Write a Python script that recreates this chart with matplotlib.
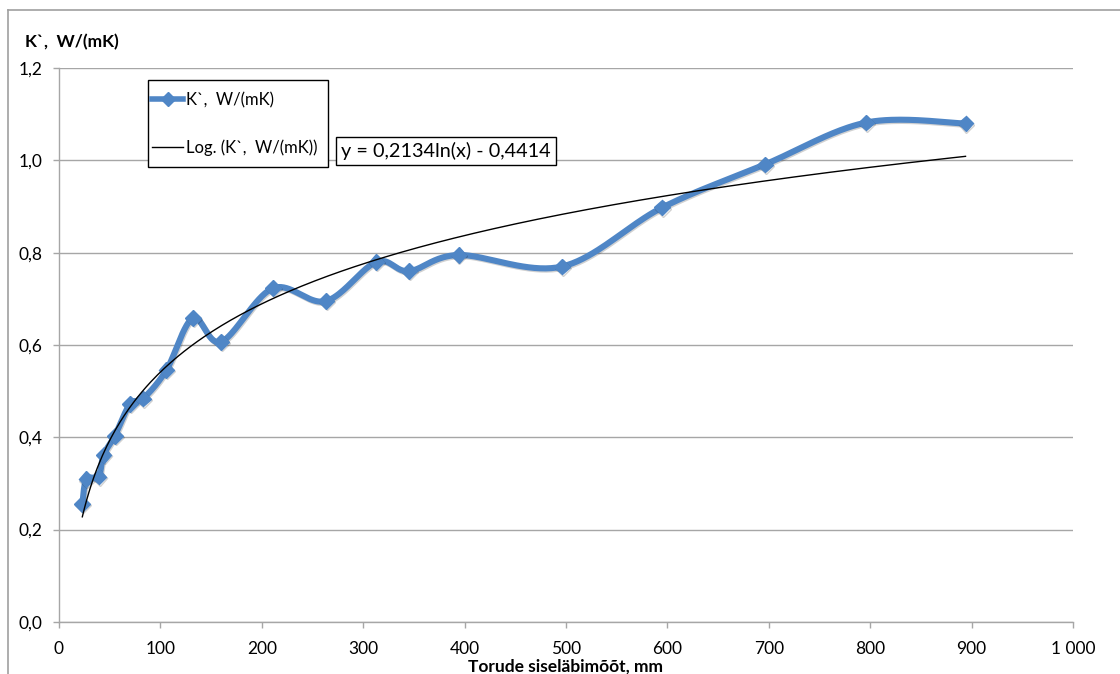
import numpy as np
import matplotlib
matplotlib.use("Agg")
import matplotlib.pyplot as plt
from matplotlib.lines import Line2D
from matplotlib.patches import Rectangle
import matplotlib.patheffects as pe
from matplotlib.ticker import FuncFormatter

plt.rcParams['font.family'] = ['Lato', 'DejaVu Sans']

# ---- data ----
diameter_mm = [23, 27, 39, 44, 55, 70, 83, 106, 132, 160, 211, 263, 313, 345,
               394, 496, 595, 696, 796, 894]
k_value = [0.255, 0.309, 0.315, 0.362, 0.403, 0.472, 0.484, 0.546, 0.658, 0.607,
           0.723, 0.695, 0.780, 0.760, 0.795, 0.770, 0.898, 0.991, 1.082, 1.080]
trend_a = 0.2134
trend_b = -0.4414
series_label = "K`,  W/(mK)"
trend_label = "Log. (K`,  W/(mK))"
equation_text = "y = 0,2134ln(x) - 0,4414"
x_label = "Torude siseläbimõõt, mm"
y_label = "K`,  W/(mK)"

W, H = 1120, 674
fig = plt.figure(figsize=(W / 100, H / 100), dpi=100)

# axes placement (pixels)
x0_px, x1_px = 59, 1073
y0_px, ytop_px = 621.9, 68.1
ax = fig.add_axes([x0_px / W, 1 - y0_px / H, (x1_px - x0_px) / W, (y0_px - ytop_px) / H])
ax.set_xlim(0, 1000)
ax.set_ylim(0, 1.2)

grid_c = '#A6A6A6'
ax.set_yticks(np.arange(0, 1.21, 0.2))
ax.set_xticks(np.arange(0, 1001, 100))
ax.yaxis.set_major_formatter(FuncFormatter(lambda v, p: f"{v:.1f}".replace('.', ',')))
ax.xaxis.set_major_formatter(FuncFormatter(lambda v, p: f"{int(round(v)):,}".replace(',', ' ')))
ax.grid(axis='y', color=grid_c, lw=1.0)
ax.set_axisbelow(True)
for s in ['top', 'right']:
    ax.spines[s].set_visible(False)
for s in ['left', 'bottom']:
    ax.spines[s].set_color(grid_c)
    ax.spines[s].set_linewidth(1.0)
ax.tick_params(axis='both', colors=grid_c, length=4, width=1.0, labelsize=12.5,
               labelcolor='black')
ax.tick_params(axis='y', pad=8)
ax.tick_params(axis='x', pad=10)

# ---- smoothed (Excel-like Bezier / Catmull-Rom) series ----
def smooth(xs, ys, n=40):
    P = np.column_stack([xs, ys]).astype(float)
    out = []
    m = len(P)
    for i in range(m - 1):
        p0 = P[i - 1] if i > 0 else P[i]
        p1 = P[i]
        p2 = P[i + 1]
        p3 = P[i + 2] if i + 2 < m else P[i + 1]
        c1 = p1 + (p2 - p0) / 6.0
        c2 = p2 - (p3 - p1) / 6.0
        t = np.linspace(0, 1, n)[:, None]
        seg = ((1 - t) ** 3) * p1 + 3 * ((1 - t) ** 2) * t * c1 + 3 * (1 - t) * t ** 2 * c2 + t ** 3 * p2
        out.append(seg if i == 0 else seg[1:])
    S = np.vstack(out)
    return S[:, 0], S[:, 1]

blue = '#4F86C6'
shadow = [pe.SimpleLineShadow(offset=(0.7, -0.9), shadow_color='black', alpha=0.18), pe.Normal()]
sx, sy = smooth(diameter_mm, k_value)
ax.plot(sx, sy, color=blue, lw=4.4, solid_capstyle='round', zorder=3, path_effects=shadow)
ax.plot(diameter_mm, k_value, linestyle='none', marker='D', ms=8, color=blue,
        markeredgecolor=blue, zorder=4, path_effects=shadow)

# ---- logarithmic trendline ----
tx = np.linspace(min(diameter_mm), max(diameter_mm), 400)
ty = trend_a * np.log(tx) + trend_b
ax.plot(tx, ty, color='black', lw=1.0, zorder=5)

# ---- legend (frame drawn separately) ----
fig.add_artist(Rectangle((148 / W, 1 - 167 / H), 180 / W, 87 / H, transform=fig.transFigure,
                         facecolor='white', edgecolor='black', lw=1.0, zorder=6))
h1 = Line2D([], [], color=blue, lw=4.0, marker='D', ms=7, markeredgecolor=blue)
h2 = Line2D([], [], color='black', lw=1.0)
leg = fig.legend([h1, h2], [series_label, trend_label], loc='upper left',
                 bbox_to_anchor=(149 / W, 1 - 88.5 / H), fontsize=12, frameon=False,
                 borderaxespad=0, handlelength=1.85, handletextpad=0.15,
                 labelspacing=1.9, borderpad=0.2)
leg.set_zorder(7)

# ---- equation box ----
fig.text(446 / W, 1 - 151 / H, equation_text, ha='center', va='center', fontsize=14.3,
         bbox=dict(boxstyle='square,pad=0.25', facecolor='white', edgecolor='black', lw=1.0))

# ---- axis titles ----
fig.text(25 / W, 1 - 42 / H, y_label, ha='left', va='center', fontsize=12.5, fontweight='bold')
fig.text(566 / W, 1 - 672 / H, x_label, ha='center', va='baseline', fontsize=12.5, fontweight='bold')

# ---- chart border (cropped) ----
fig.add_artist(Line2D([8 / W, 8 / W], [0, 1 - 10 / H], transform=fig.transFigure, color='#A0A0A0', lw=1.2))
fig.add_artist(Line2D([8 / W, 1], [1 - 10 / H, 1 - 10 / H], transform=fig.transFigure, color='#A0A0A0', lw=1.2))

fig.savefig('out.png', dpi=100, facecolor='white')
